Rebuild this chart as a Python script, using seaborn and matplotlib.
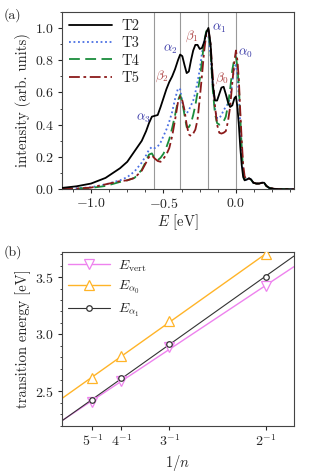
import numpy as np
import matplotlib
matplotlib.use("Agg")
import matplotlib.pyplot as plt
import seaborn as sns
from matplotlib.lines import Line2D
from matplotlib.ticker import AutoMinorLocator, MultipleLocator

# (a) spectra, values
energy = [-1.2, -1.1, -1.0, -0.9, -0.8, -0.75, -0.7, -0.65, -0.62, -0.6, -0.58, -0.56,
          -0.54, -0.52, -0.5, -0.48, -0.46, -0.44, -0.42, -0.40, -0.385, -0.37, -0.355,
          -0.34, -0.325, -0.31, -0.295, -0.28, -0.265, -0.25, -0.235, -0.22, -0.205,
          -0.19, -0.175, -0.16, -0.145, -0.13, -0.115, -0.10, -0.085, -0.07, -0.055,
          -0.04, -0.025, -0.01, 0.0, 0.01, 0.02, 0.03, 0.04, 0.05, 0.06, 0.075, 0.09,
          0.105, 0.12, 0.14, 0.16, 0.18, 0.195, 0.21, 0.23, 0.26, 0.3, 0.4]
t2 = [0.008, 0.018, 0.035, 0.07, 0.13, 0.17, 0.235, 0.3, 0.36, 0.41, 0.45, 0.455,
      0.46, 0.51, 0.565, 0.62, 0.665, 0.70, 0.745, 0.80, 0.835, 0.825, 0.77,
      0.72, 0.73, 0.80, 0.86, 0.895, 0.895, 0.87, 0.875, 0.91, 0.97,
      1.0, 0.90, 0.65, 0.55, 0.55, 0.59, 0.63, 0.635, 0.59, 0.54,
      0.51, 0.52, 0.565, 0.575, 0.51, 0.40, 0.26, 0.15, 0.075, 0.055, 0.06, 0.068,
      0.06, 0.04, 0.035, 0.035, 0.04, 0.04, 0.02, 0.008, 0.002, 0.0, 0.0]
t3 = [0.003, 0.006, 0.012, 0.03, 0.055, 0.075, 0.11, 0.165, 0.21, 0.245, 0.262, 0.255,
      0.265, 0.29, 0.33, 0.37, 0.42, 0.48, 0.56, 0.625, 0.62, 0.54, 0.48,
      0.47, 0.49, 0.52, 0.55, 0.60, 0.665, 0.74, 0.84, 0.92, 0.965,
      0.95, 0.83, 0.64, 0.50, 0.44, 0.44, 0.46, 0.49, 0.51, 0.53,
      0.56, 0.67, 0.76, 0.77, 0.71, 0.58, 0.40, 0.22, 0.10, 0.06, 0.06, 0.068,
      0.06, 0.04, 0.035, 0.035, 0.04, 0.04, 0.02, 0.008, 0.002, 0.0, 0.0]
t4 = [0.002, 0.004, 0.008, 0.02, 0.045, 0.055, 0.07, 0.12, 0.175, 0.215, 0.222, 0.19,
      0.18, 0.195, 0.22, 0.26, 0.31, 0.38, 0.46, 0.55, 0.585, 0.54, 0.46,
      0.385, 0.385, 0.41, 0.46, 0.52, 0.60, 0.68, 0.79, 0.91, 0.98,
      0.99, 0.85, 0.62, 0.47, 0.41, 0.40, 0.41, 0.42, 0.45, 0.52,
      0.62, 0.74, 0.815, 0.82, 0.76, 0.64, 0.45, 0.25, 0.11, 0.06, 0.058, 0.066,
      0.058, 0.04, 0.035, 0.035, 0.04, 0.038, 0.02, 0.008, 0.002, 0.0, 0.0]
t5 = [0.002, 0.004, 0.01, 0.03, 0.05, 0.055, 0.07, 0.115, 0.165, 0.2, 0.21, 0.19,
      0.175, 0.17, 0.19, 0.215, 0.255, 0.33, 0.43, 0.54, 0.575, 0.55, 0.49,
      0.40, 0.34, 0.33, 0.345, 0.37, 0.43, 0.56, 0.70, 0.85, 0.96,
      0.99, 0.90, 0.70, 0.52, 0.40, 0.35, 0.345, 0.35, 0.36, 0.42,
      0.51, 0.66, 0.80, 0.86, 0.80, 0.68, 0.48, 0.30, 0.15, 0.08, 0.058, 0.066,
      0.06, 0.042, 0.035, 0.035, 0.04, 0.038, 0.02, 0.01, 0.003, 0.0, 0.0]
peak_lines = [-0.563, -0.383, -0.193, 0.0]
peak_names = [r"$\alpha_3$", r"$\beta_2$", r"$\alpha_2$", r"$\beta_1$", r"$\alpha_1$", r"$\beta_0$", r"$\alpha_0$"]
peak_x = [-0.64, -0.515, -0.45, -0.305, -0.115, -0.095, 0.065]
peak_y = [0.44, 0.70, 0.865, 0.95, 1.0, 0.69, 0.84]

# (b) transition energies
inv_n = [1 / 5, 1 / 4, 1 / 3, 1 / 2]
inv_n_labels = [r"$5^{-1}$", r"$4^{-1}$", r"$3^{-1}$", r"$2^{-1}$"]
e_vert = [2.41, 2.59, 2.885, 3.42]
e_alpha0 = [2.62, 2.81, 3.114, 3.70]
e_alpha1 = [2.424, 2.617, 2.915, 3.506]

sns.set_style("ticks")
plt.rcParams["font.family"] = "serif"
plt.rcParams["font.serif"] = ["cmr10", "DejaVu Serif"]
plt.rcParams["mathtext.fontset"] = "cm"
plt.rcParams["axes.formatter.use_mathtext"] = True
plt.rcParams["font.size"] = 10
plt.rcParams["axes.labelsize"] = 10.5
plt.rcParams["xtick.labelsize"] = 10
plt.rcParams["ytick.labelsize"] = 10
plt.rcParams["axes.edgecolor"] = "#444444"
plt.rcParams["axes.linewidth"] = 0.8
plt.rcParams["xtick.major.size"] = 3
plt.rcParams["ytick.major.size"] = 3
plt.rcParams["xtick.minor.size"] = 1.8
plt.rcParams["ytick.minor.size"] = 1.8
plt.rcParams["xtick.major.pad"] = 2.5
plt.rcParams["ytick.major.pad"] = 2.5

fig = plt.figure(figsize=(3.15, 4.73), dpi=100)
ax1 = fig.add_axes([0.197, 0.600, 0.736, 0.375])
ax2 = fig.add_axes([0.197, 0.100, 0.736, 0.367])

# ---- panel (a)
for xv in peak_lines:
    ax1.axvline(xv, color="#999999", lw=0.8, zorder=1)
sns.lineplot(x=energy, y=t2, ax=ax1, color="black", lw=1.3, label="T2", zorder=5)
sns.lineplot(x=energy, y=t3, ax=ax1, color="#4a6fe3", lw=1.3, ls=(0, (1, 1.5)), label="T3", zorder=4)
sns.lineplot(x=energy, y=t4, ax=ax1, color="#1a8c3c", lw=1.3, ls=(0, (6, 3)), label="T4", zorder=4)
sns.lineplot(x=energy, y=t5, ax=ax1, color="#8b1a1a", lw=1.3, ls=(0, (6, 2, 1.5, 2)), label="T5", zorder=4)
for name, xv, yv in zip(peak_names, peak_x, peak_y):
    col = "#3c3ca8" if "alpha" in name else "#b04848"
    ax1.text(xv, yv, name, color=col, fontsize=9.5, ha="center", va="center", zorder=6)
ax1.set_xlim(-1.2, 0.4)
ax1.set_ylim(0, 1.1)
ax1.xaxis.set_major_locator(MultipleLocator(0.5))
ax1.xaxis.set_minor_locator(AutoMinorLocator(4))
ax1.yaxis.set_major_locator(MultipleLocator(0.2))
ax1.yaxis.set_minor_locator(AutoMinorLocator(2))
ax1.set_xlabel(r"$E$ [eV]", labelpad=1)
ax1.set_ylabel("intensity (arb. units)", labelpad=3)
ax1.legend(loc="upper left", frameon=False, handlelength=2.9, borderaxespad=0.2,
           labelspacing=0.25, handletextpad=0.7, fontsize=10.5, borderpad=0.3)
fig.text(0.012, 0.982, "(a)", fontsize=10, va="top")

# ---- panel (b)
xlim_b = (0.1476, 0.549)
ax2.set_xlim(*xlim_b)
series = [
    (e_vert, "violet", "v", 7, r"$E_{\mathrm{vert}}$", 1.0),
    (e_alpha0, "#ffb428", "^", 7, r"$E_{\alpha_0}$", 1.0),
    (e_alpha1, "#333333", "o", 4, r"$E_{\alpha_1}$", 0.8),
]
handles = []
for vals, col, mk, ms, lab, lw in series:
    sns.regplot(x=inv_n, y=vals, ax=ax2, ci=None, truncate=False, scatter=False,
                line_kws=dict(color=col, lw=lw, zorder=2))
    ax2.plot(inv_n, vals, ls="none", marker=mk, ms=ms, mfc="white", mec=col, mew=0.9, zorder=3)
    handles.append(Line2D([], [], color=col, lw=lw, marker=mk, ms=ms, mfc="white", mec=col, mew=0.9, label=lab))
ax2.set_xlim(*xlim_b)
ax2.set_ylim(2.2, 3.72)
ax2.set_xticks(inv_n)
ax2.set_xticklabels(inv_n_labels)
ax2.yaxis.set_major_locator(MultipleLocator(0.5))
ax2.yaxis.set_minor_locator(AutoMinorLocator(5))
ax2.set_xlabel(r"$1/n$", labelpad=3)
ax2.set_ylabel("transition energy [eV]", labelpad=3)
ax2.legend(handles=handles, loc="upper left", frameon=False, handlelength=3.0,
           borderaxespad=0.15, labelspacing=0.4, handletextpad=0.6, fontsize=10, borderpad=0.3)
fig.text(0.012, 0.482, "(b)", fontsize=10, va="top")

fig.savefig("out.png", dpi=100)
